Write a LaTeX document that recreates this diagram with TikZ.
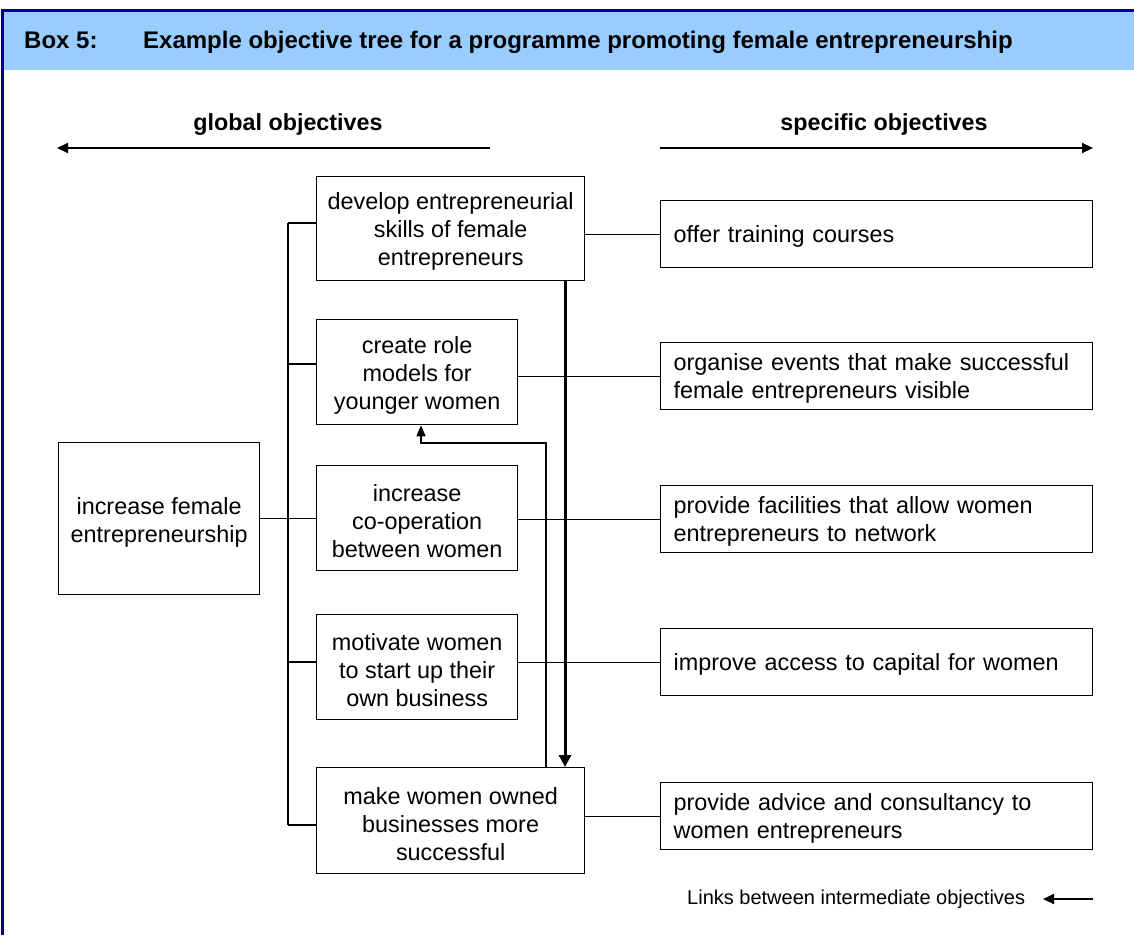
\documentclass[tikz,border=0pt]{standalone}
\usepackage{fontspec}
\setmainfont{Liberation Sans}
\usetikzlibrary{arrows.meta}
\definecolor{framenavy}{HTML}{000080}
\definecolor{headblue}{HTML}{99CCFF}
\begin{document}
\begin{tikzpicture}[x=1pt,y=-1pt,
  boxtext/.style={font=\fontsize{23.4}{28}\selectfont},
  % framed box; its text is set as a centred label, nudged slightly down
  objbox/.style={draw=black, line width=1.3pt, fill=white, inner sep=0pt, anchor=north west},
  midtext/.style={boxtext, inner sep=0pt, align=center, yshift=-3pt},
  spectext/.style={boxtext, inner sep=0pt, text width=406pt, align=left, yshift=-2pt},
  conn/.style={draw=black, line width=1.3pt},
  plainlabel/.style={inner sep=0pt, anchor=base west},
  headlabel/.style={inner sep=0pt, anchor=base, font=\fontsize{23.3}{28}\selectfont\bfseries},
  axisarrow/.style={draw=black, line width=2pt, -{Triangle[length=11pt,width=10pt]}},
  linkthick/.style={draw=black, line width=3pt, -{Triangle[length=12pt,width=12pt]}},
  linkthin/.style={draw=black, line width=1.5pt, -{Triangle[length=11pt,width=9pt]}},
]
\useasboundingbox (0,0) rectangle (1134,935);

% frame and heading strip
\fill[headblue] (3,11) rectangle (1134,70);
\draw[framenavy, line width=3pt] (2.5,935) -- (2.5,10.5) -- (1134,10.5);
\node[plainlabel, font=\fontsize{24}{28}\selectfont\bfseries] (boxno) at (24,48) {Box 5:};
\node[plainlabel, font=\fontsize{24}{28}\selectfont\bfseries] (title) at (143,48)
  {Example objective tree for a programme promoting female entrepreneurship};

% direction of objectives
\node[headlabel] (glob) at (288,130) {global objectives};
\node[headlabel] (spec) at (884,130) {specific objectives};
\coordinate (ga) at (490,148);
\coordinate (gb) at (57,148);
\coordinate (sa) at (660,148);
\coordinate (sb) at (1093,148);
\draw[axisarrow] (ga) -- (gb);
\draw[axisarrow] (sa) -- (sb);

% global objective
\node[objbox, minimum width=201pt, minimum height=152pt,
  label={[midtext, yshift=-1pt]center:{increase female\\entrepreneurship}}] (lb) at (58,442) {};

% intermediate objectives
\node[objbox, minimum width=268pt, minimum height=104pt,
  label={[midtext]center:{develop entrepreneurial\\skills of female\\entrepreneurs}}] (m1) at (316,176) {};
\node[objbox, minimum width=201pt, minimum height=105pt,
  label={[midtext]center:{create role\\models for\\younger women}}] (m2) at (316,319) {};
\node[objbox, minimum width=201pt, minimum height=105pt,
  label={[midtext]center:{increase\\co-operation\\between women}}] (m3) at (316,465) {};
\node[objbox, minimum width=201pt, minimum height=105pt,
  label={[midtext]center:{motivate women\\to start up their\\own business}}] (m4) at (316,614) {};
\node[objbox, minimum width=268pt, minimum height=106pt,
  label={[midtext]center:{make women owned\\businesses more\\successful}}] (m5) at (316,767) {};

% specific objectives
\node[objbox, minimum width=432pt, minimum height=67pt,
  label={[spectext]center:{offer training courses}}] (r1) at (660,200) {};
\node[objbox, minimum width=432pt, minimum height=67pt,
  label={[spectext]center:{organise events that make successful\\female entrepreneurs visible}}] (r2) at (660,342) {};
\node[objbox, minimum width=432pt, minimum height=67pt,
  label={[spectext]center:{provide facilities that allow women\\entrepreneurs to network}}] (r3) at (660,485) {};
\node[objbox, minimum width=432pt, minimum height=67pt,
  label={[spectext]center:{improve access to capital for women}}] (r4) at (660,628) {};
\node[objbox, minimum width=432pt, minimum height=67pt,
  label={[spectext]center:{provide advice and consultancy to\\women entrepreneurs}}] (r5) at (660,782) {};

% tree connectors
\coordinate (busx) at (288,0);
\coordinate (y1) at (0,223);
\coordinate (y2) at (0,364);
\coordinate (y4) at (0,662);
\coordinate (y5) at (0,825);
\draw[conn] (lb.east) -- (lb.east -| busx);
\draw[conn] (busx |- y1) -- (busx |- y5);
\draw[conn] (busx |- y1) -- (m1.west |- y1);
\draw[conn] (busx |- y2) -- (m2.west |- y2);
\draw[conn] (busx |- lb.east) -- (m3.west |- lb.east);
\draw[conn] (busx |- y4) -- (m4.west |- y4);
\draw[conn] (busx |- y5) -- (m5.west |- y5);

\draw[conn] (m1.east |- r1.west) -- (r1.west);
\draw[conn] (m2.east |- r2.west) -- (r2.west);
\draw[conn] (m3.east |- r3.west) -- (r3.west);
\draw[conn] (m4.east |- r4.west) -- (r4.west);
\draw[conn] (m5.east |- r5.west) -- (r5.west);

% links between intermediate objectives
\coordinate (ax) at (565,0);
\coordinate (bx) at (546,0);
\coordinate (cx) at (421,0);
\coordinate (yturn) at (0,443);
\draw[linkthick] (m1.south -| ax) -- (m5.north -| ax);
\draw[linkthin] (m5.north -| bx) -- (bx |- yturn) -- (cx |- yturn) -- (m2.south -| cx);

% key
\node[plainlabel, font=\fontsize{20}{24}\selectfont] (key) at (687,904)
  {Links between intermediate objectives};
\coordinate (ka) at (1093,899);
\coordinate (kb) at (1043,899);
\draw[axisarrow] (ka) -- (kb);
\end{tikzpicture}
\end{document}
